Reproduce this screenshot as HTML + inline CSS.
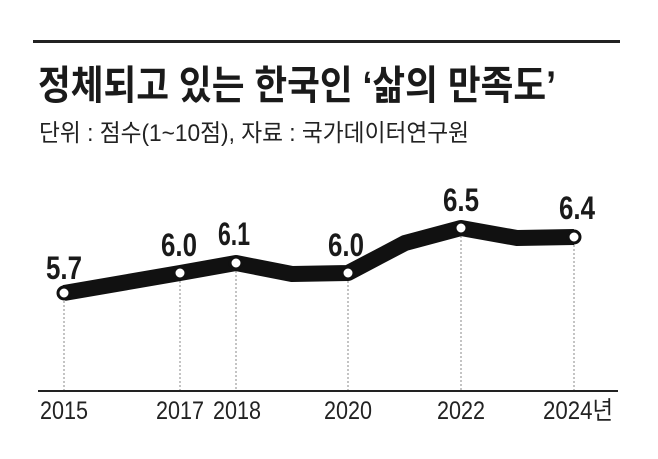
<!DOCTYPE html>
<html><head><meta charset="utf-8"><style>
body{margin:0;background:#fff;width:658px;height:459px;overflow:hidden}
</style></head><body>
<svg width="658" height="459" xmlns="http://www.w3.org/2000/svg" style="position:absolute;left:0;top:0">
<rect width="658" height="459" fill="#fff"/>
<rect x="33" y="40" width="587" height="3" fill="#222"/>
<text x="38" y="99" font-family="'Liberation Sans','Noto Sans CJK KR',sans-serif" font-weight="bold" font-size="40" fill="#1a1a1a" textLength="518" lengthAdjust="spacingAndGlyphs">정체되고 있는 한국인 ‘삶의 만족도’</text>
<text x="39" y="141" font-family="'Liberation Sans','Noto Sans CJK KR',sans-serif" font-size="24" fill="#222" textLength="430" lengthAdjust="spacingAndGlyphs">단위 : 점수(1~10점), 자료 : 국가데이터연구원</text>
<g stroke="#888" stroke-width="1" stroke-dasharray="2,2">
<line x1="64" y1="293" x2="64" y2="390"/><line x1="180" y1="273" x2="180" y2="390"/>
<line x1="236" y1="263" x2="236" y2="390"/><line x1="348" y1="273" x2="348" y2="390"/>
<line x1="461" y1="228" x2="461" y2="390"/><line x1="574" y1="237" x2="574" y2="390"/>
</g>
<rect x="38" y="390" width="580" height="2" fill="#222"/>
<polyline points="64,293 180,273 236,263 292,274 348,273 405,243 461,228 517,238 574,237" fill="none" stroke="#111" stroke-width="16" stroke-linejoin="round"/>
<g fill="#fff" stroke="#111" stroke-width="3">
<circle cx="64" cy="293" r="6"/><circle cx="180" cy="273" r="6"/><circle cx="236" cy="263" r="6"/>
<circle cx="348" cy="273" r="6"/><circle cx="461" cy="228" r="6"/><circle cx="574" cy="237" r="6"/>
</g>
<g font-family="'Liberation Sans',sans-serif" font-weight="bold" font-size="32" fill="#1a1a1a" text-anchor="middle">
<text x="64" y="279" textLength="36" lengthAdjust="spacingAndGlyphs">5.7</text>
<text x="179" y="256" textLength="36" lengthAdjust="spacingAndGlyphs">6.0</text>
<text x="234" y="245" textLength="32" lengthAdjust="spacingAndGlyphs">6.1</text>
<text x="346" y="256" textLength="36" lengthAdjust="spacingAndGlyphs">6.0</text>
<text x="461" y="211" textLength="36" lengthAdjust="spacingAndGlyphs">6.5</text>
<text x="577" y="219" textLength="36" lengthAdjust="spacingAndGlyphs">6.4</text>
</g>
<g font-family="'Liberation Sans','Noto Sans CJK KR',sans-serif" font-size="25" fill="#222" text-anchor="middle">
<text x="64" y="419" textLength="48" lengthAdjust="spacingAndGlyphs">2015</text>
<text x="180" y="419" textLength="48" lengthAdjust="spacingAndGlyphs">2017</text>
<text x="237" y="419" textLength="48" lengthAdjust="spacingAndGlyphs">2018</text>
<text x="348" y="419" textLength="48" lengthAdjust="spacingAndGlyphs">2020</text>
<text x="461" y="419" textLength="48" lengthAdjust="spacingAndGlyphs">2022</text>
<text x="578" y="419" textLength="70" lengthAdjust="spacingAndGlyphs">2024년</text>
</g>
</svg>
</body></html>
